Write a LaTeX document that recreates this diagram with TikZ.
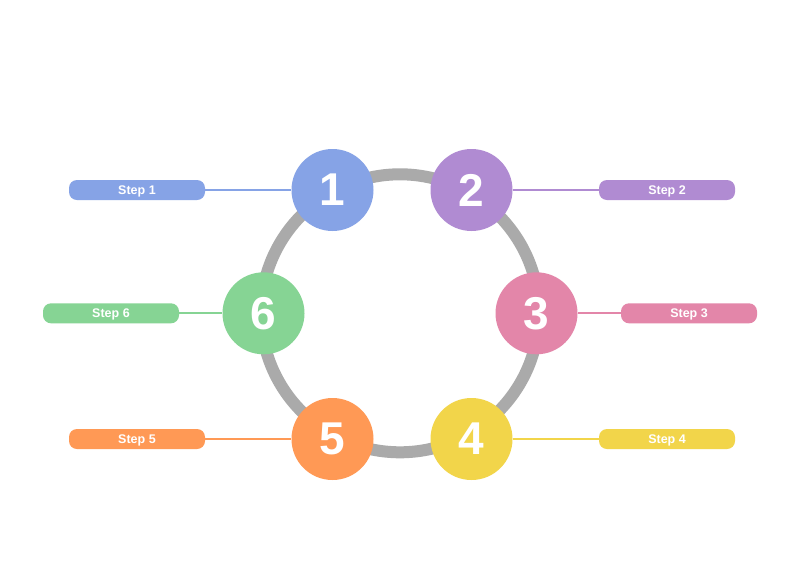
\documentclass[tikz,border=0pt]{standalone}
\usepackage{fontspec}
\setmainfont{Liberation Sans}
\definecolor{cone}{HTML}{86A3E6}
\definecolor{ctwo}{HTML}{B08BD2}
\definecolor{cthree}{HTML}{E386A9}
\definecolor{cfour}{HTML}{F2D54A}
\definecolor{cfive}{HTML}{FF9955}
\definecolor{csix}{HTML}{86D494}
\definecolor{ringgray}{HTML}{AAAAAA}
\begin{document}
\begin{tikzpicture}[x=1pt,y=-1pt,
  num/.style={circle, fill=#1, minimum size=82pt, inner sep=0pt, text=white,
    font=\fontsize{46}{46}\selectfont\bfseries},
  pill/.style={rectangle, rounded corners=8pt, fill=#1, minimum width=136pt,
    minimum height=20pt, inner sep=0pt, text=white, text height=10.5pt, text depth=1.5pt,
    font=\fontsize{12.5}{12.5}\selectfont\bfseries},
  conn/.style={draw=#1, line width=2pt}]
\useasboundingbox (0,0) rectangle (800,563);
\fill[white] (0,0) rectangle (800,563);
\node[draw=ringgray, line width=12pt, circle, minimum size=278pt, inner sep=0pt] (ring) at (400,313.3) {};
% pills
\node[pill=cone] (p1) at (137,190) {Step 1};
\node[pill=ctwo] (p2) at (667,190) {Step 2};
\node[pill=cthree] (p3) at (689,313.3) {Step 3};
\node[pill=cfour] (p4) at (667,439) {Step 4};
\node[pill=cfive] (p5) at (137,439) {Step 5};
\node[pill=csix] (p6) at (111,313.3) {Step 6};
% circles
\node[num=cone] (n1) at (332.5,190) {1};
\node[num=ctwo] (n2) at (471.5,190) {2};
\node[num=cthree] (n3) at (536.5,313.3) {3};
\node[num=cfour] (n4) at (471.5,439) {4};
\node[num=cfive] (n5) at (332.5,439) {5};
\node[num=csix] (n6) at (263.5,313.3) {6};
% connectors
\draw[conn=cone] (p1.east) -- (n1.west);
\draw[conn=ctwo] (n2.east) -- (p2.west);
\draw[conn=cthree] (n3.east) -- (p3.west);
\draw[conn=cfour] (n4.east) -- (p4.west);
\draw[conn=cfive] (p5.east) -- (n5.west);
\draw[conn=csix] (p6.east) -- (n6.west);
\end{tikzpicture}
\end{document}
